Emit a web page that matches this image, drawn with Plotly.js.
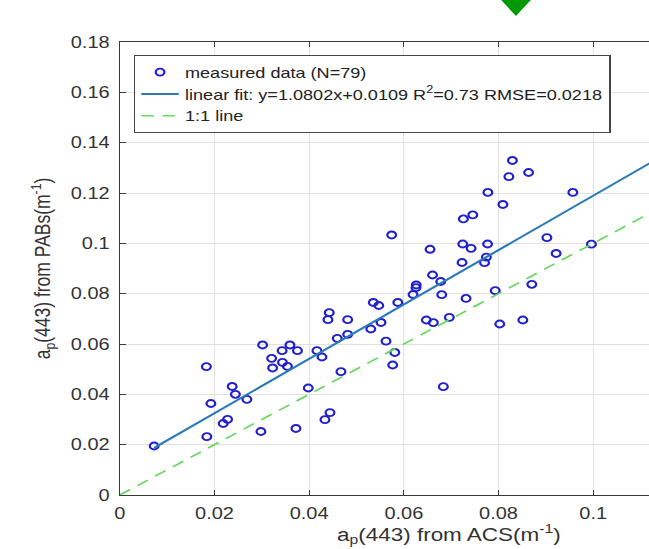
<!DOCTYPE html>
<html>
<head>
<meta charset="utf-8">
<script src="https://cdn.plot.ly/plotly-3.0.1.min.js"></script>
<style>
html, body { margin: 0; padding: 0; background: #fff; overflow: hidden; width: 649px; height: 549px; }
#chart { width: 520px; height: 549px; transform-origin: 0 0; }
</style>
</head>
<body>
<div id="chart"></div>
<script>
// a_p(443) from ACS (x) and from PABs (y)
const xACS = [
  0.00725, 0.01839, 0.01829, 0.01924, 0.02184, 0.02277, 0.02374, 0.02442, 0.02685, 0.02981,
  0.03017, 0.03207, 0.03228, 0.03429, 0.03436, 0.03541, 0.03594, 0.03753, 0.03721, 0.03981,
  0.04165, 0.04271, 0.04334, 0.04440, 0.04672, 0.04425, 0.04397, 0.04814, 0.04594, 0.04814,
  0.05355, 0.05471, 0.05873, 0.05302, 0.05518, 0.05624, 0.05810, 0.05765, 0.06835, 0.06476,
  0.06624, 0.06962, 0.08027, 0.08514, 0.06554, 0.07245, 0.07421, 0.07770, 0.07230, 0.07744,
  0.07706, 0.06607, 0.06780, 0.06262, 0.06258, 0.06195, 0.06801, 0.07315, 0.07932, 0.08294,
  0.08220, 0.08636, 0.07776, 0.09571, 0.08093, 0.07258, 0.07457, 0.09023, 0.09964, 0.09218,
  0.05744, 0.08704
];
const yPABs = [
  0.01947, 0.02317, 0.05098, 0.03636, 0.02841, 0.03008, 0.04312, 0.04002, 0.03803, 0.02523,
  0.05961, 0.05432, 0.05047, 0.05734, 0.05273, 0.05114, 0.05961, 0.05734, 0.02643, 0.04252,
  0.05734, 0.05484, 0.02992, 0.03270, 0.04900, 0.07244, 0.06966, 0.06966, 0.06227, 0.06386,
  0.07650, 0.07530, 0.07650, 0.06596, 0.06855, 0.06112, 0.05663, 0.05166, 0.04304, 0.06954,
  0.06847, 0.07061, 0.06795, 0.06954, 0.09764, 0.09974, 0.09803, 0.09974, 0.09239, 0.09450,
  0.09231, 0.08742, 0.08484, 0.08345, 0.08238, 0.07967, 0.07960, 0.07809, 0.08118, 0.13292,
  0.12649, 0.12815, 0.12021, 0.12021, 0.11544, 0.10968, 0.11127, 0.10225, 0.09966, 0.09597,
  0.10332, 0.08373
];
const fitSlope = 1.0802;
const fitIntercept = 0.0109;
const xRange = [0, 0.1118];
const yRange = [0, 0.18];
const xTicks = [0, 0.02, 0.04, 0.06, 0.08, 0.1];
const yTicks = [0, 0.02, 0.04, 0.06, 0.08, 0.1, 0.12, 0.14, 0.16, 0.18];
const legendNames = [
  'measured data (N=79)',
  'linear fit: y=1.0802x+0.0109 R<sup>2</sup>=0.73 RMSE=0.0218',
  '1:1 line'
];
const xTitle = 'a<sub>p</sub>(443) from ACS(m<sup>-1</sup>)';
const yTitle = 'a<sub>p</sub>(443) from PABs(m<sup>-1</sup>)';

// the reference picture is stretched horizontally; reproduce that stretch
const PAGE_W = 649, PLOT_W = 520, STRETCH = PAGE_W / PLOT_W;
document.getElementById('chart').style.transform = 'scaleX(' + STRETCH + ')';

const xFitStart = Math.min.apply(null, xACS);
const xLineEnd = 0.14;
const fitX = [xFitStart, xLineEnd];
const fitY = fitX.map(v => fitSlope * v + fitIntercept);
const oneX = [0, xLineEnd];

const FONT = '"Liberation Sans", Arial, Helvetica, sans-serif';
const AXCOL = '#3a3a3a';

const traces = [
  {
    x: xACS, y: yPABs, type: 'scatter', mode: 'markers', name: legendNames[0],
    marker: { symbol: 'circle-open', size: 7, color: '#2020d0', line: { width: 1.8, color: '#2020d0' } }
  },
  {
    x: fitX, y: fitY, type: 'scatter', mode: 'lines', name: legendNames[1],
    line: { color: '#2a7ab8', width: 2 }
  },
  {
    x: oneX, y: oneX, type: 'scatter', mode: 'lines', name: legendNames[2],
    line: { color: '#66d85e', width: 1.6, dash: '10px,7px' }
  }
];

const layout = {
  width: PLOT_W, height: 549,
  margin: { l: 96, r: 0, t: 42, b: 54 },
  paper_bgcolor: '#ffffff', plot_bgcolor: '#ffffff',
  font: { family: FONT, size: 15, color: '#333333' },
  showlegend: true,
  legend: {
    x: 0.0265, y: 0.971, xanchor: 'left', yanchor: 'top',
    bgcolor: '#ffffff', bordercolor: '#444444', borderwidth: 1,
    font: { family: FONT, size: 14.5, color: '#222222' },
    tracegroupgap: 0
  },
  xaxis: {
    range: xRange, tickvals: xTicks, ticktext: xTicks.map(String),
    showgrid: true, gridcolor: '#e0e0e0', gridwidth: 1,
    zeroline: false, showline: true, linecolor: AXCOL, linewidth: 1,
    mirror: 'ticks', ticks: 'inside', ticklen: 5, tickcolor: AXCOL,
    tickfont: { family: FONT, size: 16, color: '#333333' },
    ticklabelstandoff: 4
  },
  yaxis: {
    range: yRange, tickvals: yTicks, ticktext: yTicks.map(String),
    showgrid: true, gridcolor: '#e0e0e0', gridwidth: 1,
    zeroline: false, showline: true, linecolor: AXCOL, linewidth: 1,
    mirror: false, ticks: 'inside', ticklen: 5, tickcolor: AXCOL,
    tickfont: { family: FONT, size: 16, color: '#333333' },
    ticklabelstandoff: 4,
    title: { text: yTitle, font: { family: FONT, size: 17.5, color: '#333333' }, standoff: 11 }
  },
  annotations: [
    {
      text: xTitle, xref: 'paper', yref: 'paper', x: (449 - 120) / 529, y: -0.119,
      xanchor: 'center', yanchor: 'bottom', showarrow: false,
      font: { family: FONT, size: 18, color: '#333333' }
    }
  ],
  shapes: [
    {
      type: 'path', xref: 'paper', yref: 'paper', layer: 'above',
      path: 'M 0.7108 1.105 L 0.7864 1.105 L 0.7486 1.0574 Z',
      fillcolor: '#009a00', line: { width: 0 }
    }
  ]
};

Plotly.newPlot('chart', traces, layout, { displayModeBar: false, staticPlot: true });
</script>
</body>
</html>
